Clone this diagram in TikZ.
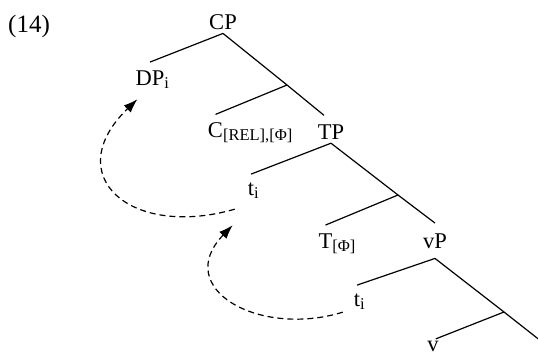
\documentclass[tikz,border=0pt]{standalone}
\usepackage{fontspec}
\setmainfont{Liberation Serif}
\usetikzlibrary{arrows.meta}
\newcommand{\lowidx}[1]{\rlap{\raisebox{-3pt}{\fontsize{16.5}{16.5}\selectfont #1}}}

\begin{document}
\begin{tikzpicture}[x=1pt, y=-1pt,
    every node/.style={font=\fontsize{22.5}{27}\selectfont, inner xsep=0pt},
    phrase/.style={anchor=base, inner ysep=3.5pt},
    leaf/.style={anchor=base, inner ysep=8pt},
    branch/.style={line width=1.2pt},
    movement/.style={dash pattern=on 6pt off 4pt, line width=1.2pt, -{Latex[length=14pt,width=10pt]}}]
  \useasboundingbox (0,0) rectangle (538,357);

  \node[anchor=base west, font=\fontsize{25}{30}\selectfont] (ex) at (8,32) {(14)};

  \node[phrase] (cp) at (223,29.5) {CP};
  \node[leaf] (dp) at (150,85) {DP\lowidx{i}};
  \coordinate (cbar) at (287,85);
  \node[leaf] (c) at (215.5,137.5) {C\lowidx{[REL],[Φ]}};
  \node[phrase] (tp) at (331,139.5) {TP};
  \node[leaf] (ti1) at (251,195) {t\lowidx{i}};
  \coordinate (tbar) at (398,195);
  \node[leaf] (t) at (325.5,248) {T\lowidx{[Φ]}};
  \node[phrase, inner ysep=10pt] (vp) at (435,248) {vP};
  \node[leaf] (ti2) at (357,306) {t\lowidx{i}};
  \coordinate (vbar) at (504,312);
  \node[leaf, inner ysep=0.5pt] (v) at (433,351) {v};
  \coordinate (vspine) at (560,356);

  % tree
  \draw[branch] (cp.south) -- (dp.north);
  \draw[branch, shorten >=9pt] (cp.south) -- (cbar) -- (tp.north);
  \draw[branch] (cbar) -- (c.north);
  \draw[branch] (tp.south) -- (ti1.north);
  \draw[branch] (tp.south) -- (tbar) -- (vp.north);
  \draw[branch] (tbar) -- (t.north);
  \draw[branch] (vp.south) -- (ti2.north);
  \draw[branch] (vp.south) -- (vbar) -- (vspine);
  \draw[branch, shorten >=3pt] (vbar) -- (v.north);

  % movement
  \draw[movement] ([xshift=-13pt,yshift=-3pt]ti1.south west) to[out=196, in=224, looseness=1.9] ([xshift=2pt,yshift=-3pt]dp.south west);
  \draw[movement] ([xshift=-11pt,yshift=5pt]ti2.south west) to[out=197, in=226, looseness=1.6] ([xshift=-15pt,yshift=-19pt]ti1.south west);
\end{tikzpicture}
\end{document}
